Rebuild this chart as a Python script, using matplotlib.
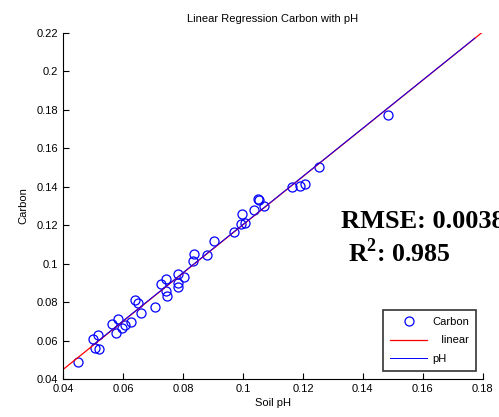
import matplotlib
matplotlib.use("Agg")
import matplotlib.pyplot as plt
from matplotlib.ticker import FuncFormatter

soil_ph = [0.0448, 0.0499, 0.0506, 0.0517, 0.0520, 0.0564, 0.0577, 0.0584, 0.0597, 0.0606,
           0.0626, 0.0640, 0.0648, 0.0660, 0.0706, 0.0726, 0.0742, 0.0743, 0.0745, 0.0784,
           0.0784, 0.0784, 0.0802, 0.0832, 0.0835, 0.0881, 0.0903, 0.0971, 0.0995, 0.0993,
           0.1006, 0.1038, 0.1051, 0.1052, 0.1071, 0.1165, 0.1189, 0.1207, 0.1255, 0.1483]
carbon = [0.0492, 0.0608, 0.0564, 0.0628, 0.0559, 0.0687, 0.0639, 0.0713, 0.0665, 0.0680,
          0.0698, 0.0810, 0.0795, 0.0743, 0.0777, 0.0897, 0.0921, 0.0860, 0.0833, 0.0947,
          0.0898, 0.0881, 0.0930, 0.1016, 0.1052, 0.1046, 0.1120, 0.1163, 0.1258, 0.1205,
          0.1210, 0.1279, 0.1336, 0.1331, 0.1300, 0.1400, 0.1404, 0.1416, 0.1504, 0.1773]

linear_x = [0.040, 0.1797]
linear_y = [0.0452, 0.2200]
ph_x = [0.0499, 0.1774]
ph_y = [0.0578, 0.2172]

xticks = [0.04, 0.06, 0.08, 0.10, 0.12, 0.14, 0.16, 0.18]
yticks = [0.04, 0.06, 0.08, 0.10, 0.12, 0.14, 0.16, 0.18, 0.20, 0.22]

plt.rcParams['font.family'] = ['Liberation Sans', 'DejaVu Sans']
plt.rcParams['mathtext.fontset'] = 'custom'
plt.rcParams['mathtext.rm'] = 'Liberation Serif:bold'
plt.rcParams['mathtext.bf'] = 'Liberation Serif:bold'

fig = plt.figure(figsize=(4.99, 4.17), dpi=100)
ax = fig.add_axes([0.1269, 0.0904, 0.8404, 0.8312])

ax.plot(soil_ph, carbon, 'o', mfc='none', mec=(0, 0, 1), ms=6.5, mew=0.9, label='Carbon')
ax.plot(linear_x, linear_y, '-', color=(1, 0, 0), lw=0.9, label='   linear')
ax.plot(ph_x, ph_y, '-', color=(0, 0, 1), lw=0.7, label='pH')

ax.set_xlim(0.04, 0.18)
ax.set_ylim(0.04, 0.22)
ax.set_xticks(xticks)
ax.set_yticks(yticks)
fmt = FuncFormatter(lambda v, p: ('%g' % round(v, 4)))
ax.xaxis.set_major_formatter(fmt)
ax.yaxis.set_major_formatter(fmt)
ax.tick_params(direction='in', length=4, width=0.8, labelsize=8, colors='black')
ax.spines['top'].set_visible(False)
ax.spines['right'].set_visible(False)
for s in ['left', 'bottom']:
    ax.spines[s].set_linewidth(0.8)

ax.set_title('Linear Regression Carbon with pH', fontsize=8, pad=8)
ax.set_xlabel('Soil pH', fontsize=8, labelpad=3)
ax.set_ylabel('Carbon', fontsize=8, labelpad=6)

fig.text(341 / 499, 1 - 222 / 417, 'RMSE: 0.0038', fontsize=19, fontweight='bold',
         family='Liberation Serif', va='center', ha='left')
fig.text(348 / 499, 1 - 253 / 417, r'R$^{2}$: 0.985', fontsize=18.5, fontweight='bold',
         family='Liberation Serif', va='center', ha='left')

leg = ax.legend(loc='lower right', bbox_to_anchor=(476 / 499, 1 - 371 / 417), bbox_transform=fig.transFigure,
                fontsize=8, frameon=True, fancybox=False, edgecolor='black', borderpad=0.6,
                borderaxespad=0, handlelength=3.4, handletextpad=0.45, labelspacing=0.8,
                markerfirst=True)
leg.get_frame().set_linewidth(1.2)

fig.savefig('out.png', dpi=100)
